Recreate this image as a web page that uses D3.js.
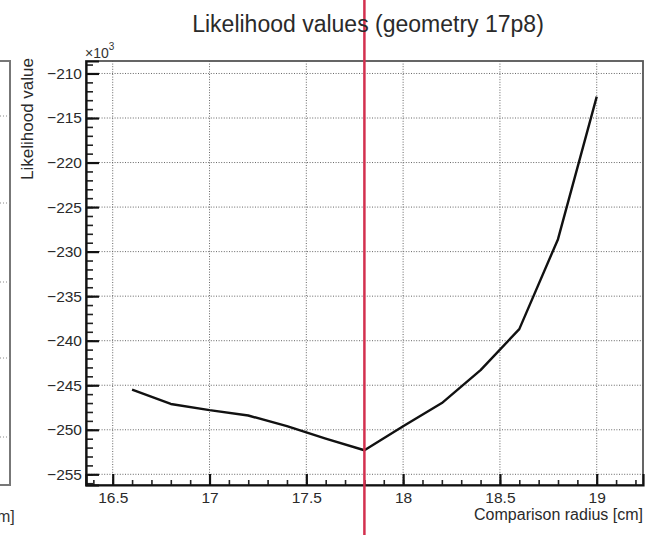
<!DOCTYPE html>
<html>
<head>
<meta charset="utf-8">
<script src="https://cdnjs.cloudflare.com/ajax/libs/d3/7.8.5/d3.min.js"></script>
<style>
  body { margin: 0; background: #fff; }
  svg { display: block; font-family: "Liberation Sans", Arial, sans-serif; }
</style>
</head>
<body>
<div id="chart"></div>
<script>
// radius in cm, likelihood in units of 10^3
var radius = [16.6, 16.8, 17.0, 17.2, 17.4, 17.6, 17.8, 18.0, 18.2, 18.4, 18.6, 18.8, 19.0];
var likelihood = [-245.5, -247.1, -247.8, -248.4, -249.6, -251.0, -252.3, -249.6, -247.0, -243.3, -238.7, -228.6, -212.6];
var xTicks = [16.5, 17, 17.5, 18, 18.5, 19];
var yTicks = [-210, -215, -220, -225, -230, -235, -240, -245, -250, -255];
var bestRadius = 17.8;
// grid stubs of the neighbouring pad (cut off at the left)
var leftPadGrid = [116, 203, 282, 358, 437];

var W = 661, H = 535;
var frame = {left: 86, right: 643, top: 61, bottom: 485};

var svg = d3.select("#chart").append("svg")
  .attr("width", W).attr("height", H);

var x = d3.scaleLinear().domain([16.362, 19.239]).range([frame.left, frame.right]);
var y = d3.scaleLinear().domain([-256.2, -208.6]).range([frame.bottom, frame.top]);

// neighbouring pad remnant
var lp = svg.append("g");
lp.append("path")
  .attr("d", "M0," + frame.top + "H10V" + frame.bottom + "H0")
  .attr("fill", "none").attr("stroke", "#777").attr("stroke-width", 2);
lp.selectAll("line.g").data(leftPadGrid).enter().append("line")
  .attr("x1", 0).attr("x2", 10).attr("y1", function(d){ return d; }).attr("y2", function(d){ return d; })
  .attr("stroke", "#888").attr("stroke-dasharray", "1,2");
lp.append("text").attr("x", -3).attr("y", 522).attr("font-size", 16).attr("fill", "#333").text("m]");

// grid
var grid = svg.append("g");
grid.selectAll("line.gx").data(xTicks).enter().append("line")
  .attr("x1", function(d){ return x(d); }).attr("x2", function(d){ return x(d); })
  .attr("y1", frame.top).attr("y2", frame.bottom)
  .attr("stroke", "#666").attr("stroke-width", 1).attr("stroke-dasharray", "1,1.6");
grid.selectAll("line.gy").data(yTicks).enter().append("line")
  .attr("x1", frame.left).attr("x2", frame.right)
  .attr("y1", function(d){ return y(d); }).attr("y2", function(d){ return y(d); })
  .attr("stroke", "#666").attr("stroke-width", 1).attr("stroke-dasharray", "1,1.6");

// frame
svg.append("rect")
  .attr("x", frame.left).attr("y", frame.top)
  .attr("width", frame.right - frame.left).attr("height", frame.bottom - frame.top)
  .attr("fill", "none").attr("stroke", "#555").attr("stroke-width", 1.8);

// minor ticks
var xMinor = d3.range(164, 193).map(function(d){ return d / 10; });
var yMinor = d3.range(-256, -208);
svg.append("g").attr("transform", "translate(0," + frame.bottom + ")")
  .call(d3.axisBottom(x).tickValues(xMinor).tickSize(-5).tickFormat(""))
  .call(function(g){ g.select(".domain").remove(); g.selectAll("line").attr("stroke", "#222").attr("stroke-width", 1.6); });
svg.append("g").attr("transform", "translate(" + frame.left + ",0)")
  .call(d3.axisLeft(y).tickValues(yMinor).tickSize(-7).tickFormat(""))
  .call(function(g){ g.select(".domain").remove(); g.selectAll("line").attr("stroke", "#222").attr("stroke-width", 1.6); });

// major axes
var xAxis = svg.append("g").attr("transform", "translate(0," + frame.bottom + ")")
  .call(d3.axisBottom(x).tickValues(xTicks).tickSize(-11).tickPadding(7).tickFormat(d3.format("")));
var yAxis = svg.append("g").attr("transform", "translate(" + frame.left + ",0)")
  .call(d3.axisLeft(y).tickValues(yTicks).tickSize(-13).tickPadding(4).tickFormat(d3.format("")));
[xAxis, yAxis].forEach(function(g){
  g.select(".domain").attr("stroke", "#111").attr("stroke-width", 2.2);
  g.selectAll(".tick line").attr("stroke", "#111").attr("stroke-width", 2.2);
  g.selectAll(".tick text").attr("font-size", 15.5).attr("fill", "#2a2a2a")
    .style("font-family", "'Liberation Sans', Arial, sans-serif");
});

// exponent label
var ex = svg.append("text").attr("x", frame.left - 1).attr("y", 58).attr("font-size", 14).attr("fill", "#333");
ex.append("tspan").text("\u00d710");
ex.append("tspan").attr("font-size", 10).attr("dy", -8).text("3");

// data line
var line = d3.line()
  .x(function(d, i){ return x(radius[i]); })
  .y(function(d){ return y(d); });
svg.append("path").datum(likelihood)
  .attr("d", line)
  .attr("fill", "none").attr("stroke", "#111").attr("stroke-width", 2.4)
  .attr("stroke-linejoin", "round");

// best radius marker
svg.append("line")
  .attr("x1", x(bestRadius)).attr("x2", x(bestRadius))
  .attr("y1", 0).attr("y2", H)
  .attr("stroke", "#d3304f").attr("stroke-width", 2.5);

// titles
svg.append("text").attr("x", 368).attr("y", 32).attr("text-anchor", "middle")
  .attr("font-size", 23).attr("fill", "#2a2a2a").text("Likelihood values (geometry 17p8)");
svg.append("text").attr("x", frame.right).attr("y", 520).attr("text-anchor", "end")
  .attr("font-size", 16).attr("fill", "#2a2a2a").text("Comparison radius [cm]");
svg.append("text").attr("transform", "translate(33,58) rotate(-90)").attr("text-anchor", "end")
  .attr("font-size", 17).attr("fill", "#2a2a2a").text("Likelihood value");
</script>
</body>
</html>
